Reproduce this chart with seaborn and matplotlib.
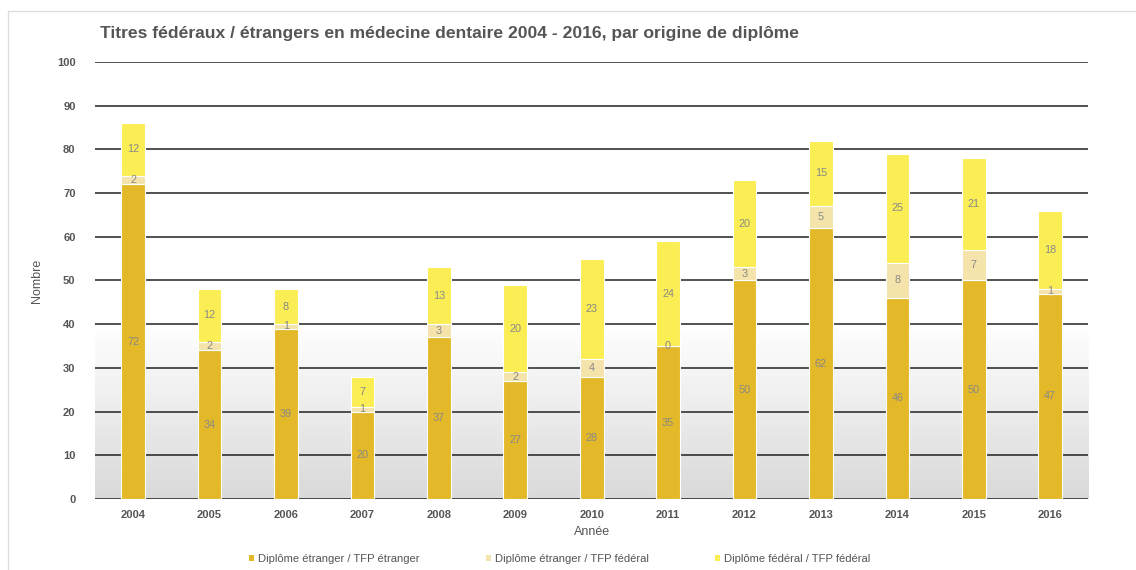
import numpy as np
import seaborn as sns
import matplotlib.pyplot as plt
from matplotlib.patches import Patch
from matplotlib.lines import Line2D

years = ["2004", "2005", "2006", "2007", "2008", "2009", "2010",
         "2011", "2012", "2013", "2014", "2015", "2016"]
etr_etr = [72, 34, 39, 20, 37, 27, 28, 35, 50, 62, 46, 50, 47]
etr_fed = [2, 2, 1, 1, 3, 2, 4, 0, 3, 5, 8, 7, 1]
fed_fed = [12, 12, 8, 7, 13, 20, 23, 24, 20, 15, 25, 21, 18]
series_names = ["Diplôme étranger / TFP étranger",
                "Diplôme étranger / TFP fédéral",
                "Diplôme fédéral / TFP fédéral"]
colors = ["#e4b929", "#f4e3aa", "#fbee55"]

sns.set_style("white")
plt.rcParams['font.family'] = ['Liberation Sans', 'DejaVu Sans']

fig = plt.figure(figsize=(11.36, 5.70), dpi=100)
ax = fig.add_axes([0.0836, 0.1246, 0.8745, 0.7666])

# gradient background in lower part
grad = np.linspace(0, 1, 256).reshape(-1, 1)
ax.imshow(grad, extent=(-0.5, 12.5, 0, 40), aspect='auto', origin='lower',
          cmap=sns.blend_palette(["#d9d9d9", "#ffffff"], as_cmap=True),
          zorder=0)

bottom = np.zeros(len(years))
for vals, col in zip([etr_etr, etr_fed, fed_fed], colors):
    sns.barplot(x=years, y=vals, bottom=bottom, color=col, width=0.31,
                edgecolor="white", linewidth=0.8, saturation=1, ax=ax, zorder=2)
    for i, v in enumerate(vals):
        ax.text(i, bottom[i] + v / 2, str(v), ha='center', va='center',
                fontsize=7.8, color='#888888', zorder=3)
    bottom = bottom + np.array(vals)

ax.set_xlim(-0.5, 12.5)
ax.set_ylim(0, 100)
ax.set_yticks(range(0, 101, 10))
ax.yaxis.grid(True, color='#222222', linewidth=1.1)
ax.set_axisbelow(True)
for s in ax.spines.values():
    s.set_visible(False)
ax.tick_params(length=0, labelsize=8, labelcolor='#555555')
ax.tick_params(axis='y', pad=14)
ax.tick_params(axis='x', pad=8)
for lab in ax.get_xticklabels() + ax.get_yticklabels():
    lab.set_fontweight('bold')
ax.set_xlabel("Année", fontsize=9, color='#555555', labelpad=4)
ax.set_ylabel("Nombre", fontsize=9, color='#555555', labelpad=10)

fig.text(0.088, 0.942, "Titres fédéraux / étrangers en médecine dentaire 2004 - 2016, par origine de diplôme",
         fontsize=12.6, fontweight='bold', color='#555555', va='center')

# outer panel frame
fig.add_artist(Line2D([0.007, 0.007], [0, 0.981], color='#dddddd', lw=1))
fig.add_artist(Line2D([0.007, 1], [0.981, 0.981], color='#dddddd', lw=1))

handles = [Patch(facecolor=c, edgecolor='none') for c in colors]
fig.legend(handles, series_names, loc='center left', bbox_to_anchor=(0.21, 0.019),
           ncol=3, frameon=False, fontsize=8.1, labelcolor='#555555',
           handlelength=0.5, handleheight=0.5, handletextpad=0.3, columnspacing=5.9)

fig.savefig("out.png", dpi=100)
